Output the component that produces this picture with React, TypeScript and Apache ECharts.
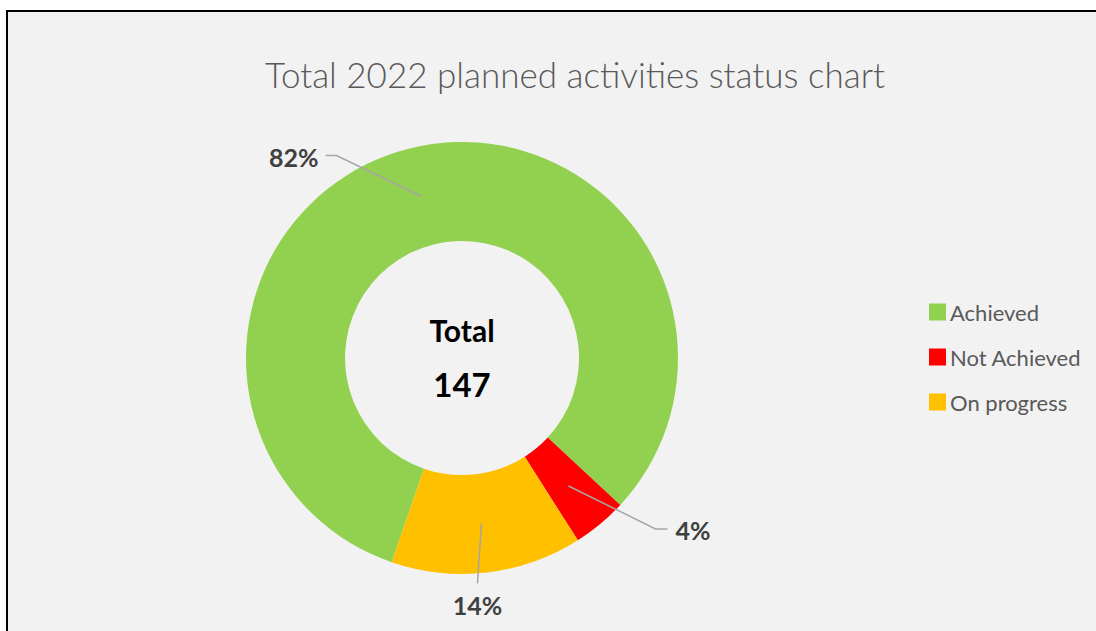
import React, { useEffect, useRef } from "react";
import * as echarts from "echarts";

const CATEGORIES = ["Achieved", "Not Achieved", "On progress"];
const VALUES = [120, 6, 21];
const COLORS = ["#92D050", "#FF0000", "#FFC000"];
const TITLE = "Total 2022 planned activities status chart";
const CENTER_LABEL = "Total";

// layout / style constants
const CX = 462;
const CY = 358;
const R_IN = 117;
const R_OUT = 216;
const START_ANGLE = 251; // echarts convention (deg, ccw from 3 o'clock)
const FONT = "Lato, 'Open Sans', sans-serif";
// label line offsets from the start point (inside the ring): [elbow, end], label offset, alignment
const LABEL_GEOM = [
  { elbow: [-85, -41], end: [-96, -41], lab: [-7, 2], align: "right", va: "middle" },
  { elbow: [87, 43], end: [99, 43], lab: [8, 1], align: "left", va: "middle" },
  { elbow: [-2, 30], end: [-4, 60], lab: [0, 9], align: "center", va: "top" },
];

export default function App() {
  const ref = useRef<HTMLDivElement>(null);
  useEffect(() => {
    if (!ref.current) return;
    const chart = echarts.init(ref.current, undefined, { renderer: "svg" });
    const total = VALUES.reduce((a, b) => a + b, 0);
    const startCw = ((90 - START_ANGLE) % 360 + 360) % 360;
    const midR = (R_IN + R_OUT) / 2;
    const mids: number[] = [];
    let acc = 0;
    VALUES.forEach((v) => {
      mids.push(startCw + ((acc + v / 2) / total) * 360);
      acc += v;
    });
    const common = {
      type: "pie",
      center: [CX, CY],
      radius: [R_IN, R_OUT],
      startAngle: START_ANGLE,
      clockwise: true,
      percentPrecision: 0,
      avoidLabelOverlap: false,
      emphasis: { disabled: true },
    };
    chart.setOption({
      animation: false,
      backgroundColor: "transparent",
      tooltip: { show: false },
      title: {
        text: TITLE,
        left: 570,
        top: 51,
        textAlign: "center",
        textStyle: { fontFamily: FONT, fontSize: 35, fontWeight: 300, color: "#595959" },
      },
      legend: {
        orient: "vertical",
        left: 924,
        top: 296,
        itemWidth: 17,
        itemHeight: 17,
        itemGap: 23,
        icon: "rect",
        textStyle: { fontFamily: FONT, fontSize: 22, color: "#595959", padding: [0, 0, 0, -1] },
        data: CATEGORIES.map((name, i) => ({ name, itemStyle: { color: COLORS[i] } })),
      },
      graphic: [
        {
          type: "text",
          x: CX,
          y: 330,
          style: {
            text: CENTER_LABEL,
            fill: "#000",
            fontFamily: FONT,
            fontWeight: "bold",
            fontSize: 30,
            align: "center",
            verticalAlign: "middle",
            textAlign: "center",
            textVerticalAlign: "middle",
          },
        },
        {
          type: "text",
          x: CX,
          y: 384,
          style: {
            text: String(total),
            fill: "#000",
            fontFamily: FONT,
            fontWeight: "bold",
            fontSize: 33,
            align: "center",
            verticalAlign: "middle",
            textAlign: "center",
            textVerticalAlign: "middle",
          },
        },
      ],
      series: [
        {
          ...common,
          z: 2,
          data: CATEGORIES.map((name, i) => ({
            name,
            value: VALUES[i],
            itemStyle: { color: COLORS[i] },
          })),
          label: { show: false },
          labelLine: { show: false },
        },
        {
          ...common,
          z: 5,
          silent: true,
          legendHoverLink: false,
          data: CATEGORIES.map((name, i) => ({
            name,
            value: VALUES[i],
            itemStyle: { color: "rgba(0,0,0,0)" },
          })),
          label: {
            show: true,
            position: "outside",
            formatter: "{d}%",
            fontFamily: FONT,
            fontSize: 25,
            fontWeight: "bold",
            color: "#404040",
          },
          labelLine: {
            show: true,
            showAbove: true,
            length: 20,
            length2: 10,
            lineStyle: { color: "#A6A6A6", width: 1.5 },
          },
          labelLayout: (params: any) => {
            const i = params.dataIndex;
            const g = LABEL_GEOM[i];
            const rad = (mids[i] * Math.PI) / 180;
            const sx = CX + midR * Math.sin(rad);
            const sy = CY - midR * Math.cos(rad);
            const ex = sx + g.end[0];
            const ey = sy + g.end[1];
            return {
              x: ex + g.lab[0],
              y: ey + g.lab[1],
              align: g.align,
              verticalAlign: g.va,
              labelLinePoints: [
                [sx, sy],
                [sx + g.elbow[0], sy + g.elbow[1]],
                [ex, ey],
              ],
            };
          },
        },
      ],
    });
    return () => chart.dispose();
  }, []);

  return (
    <div style={{ position: "fixed", left: 0, top: 0, width: 1096, height: 631, overflow: "hidden", background: "#fff" }}>
      <div
        style={{
          position: "absolute",
          left: 6,
          top: 10,
          width: 1200,
          height: 800,
          borderTop: "2px solid #000",
          borderLeft: "2px solid #000",
          background: "#F2F2F2",
        }}
      />
      <div ref={ref} style={{ position: "absolute", left: 0, top: 0, width: 1096, height: 631 }} />
    </div>
  );
}
